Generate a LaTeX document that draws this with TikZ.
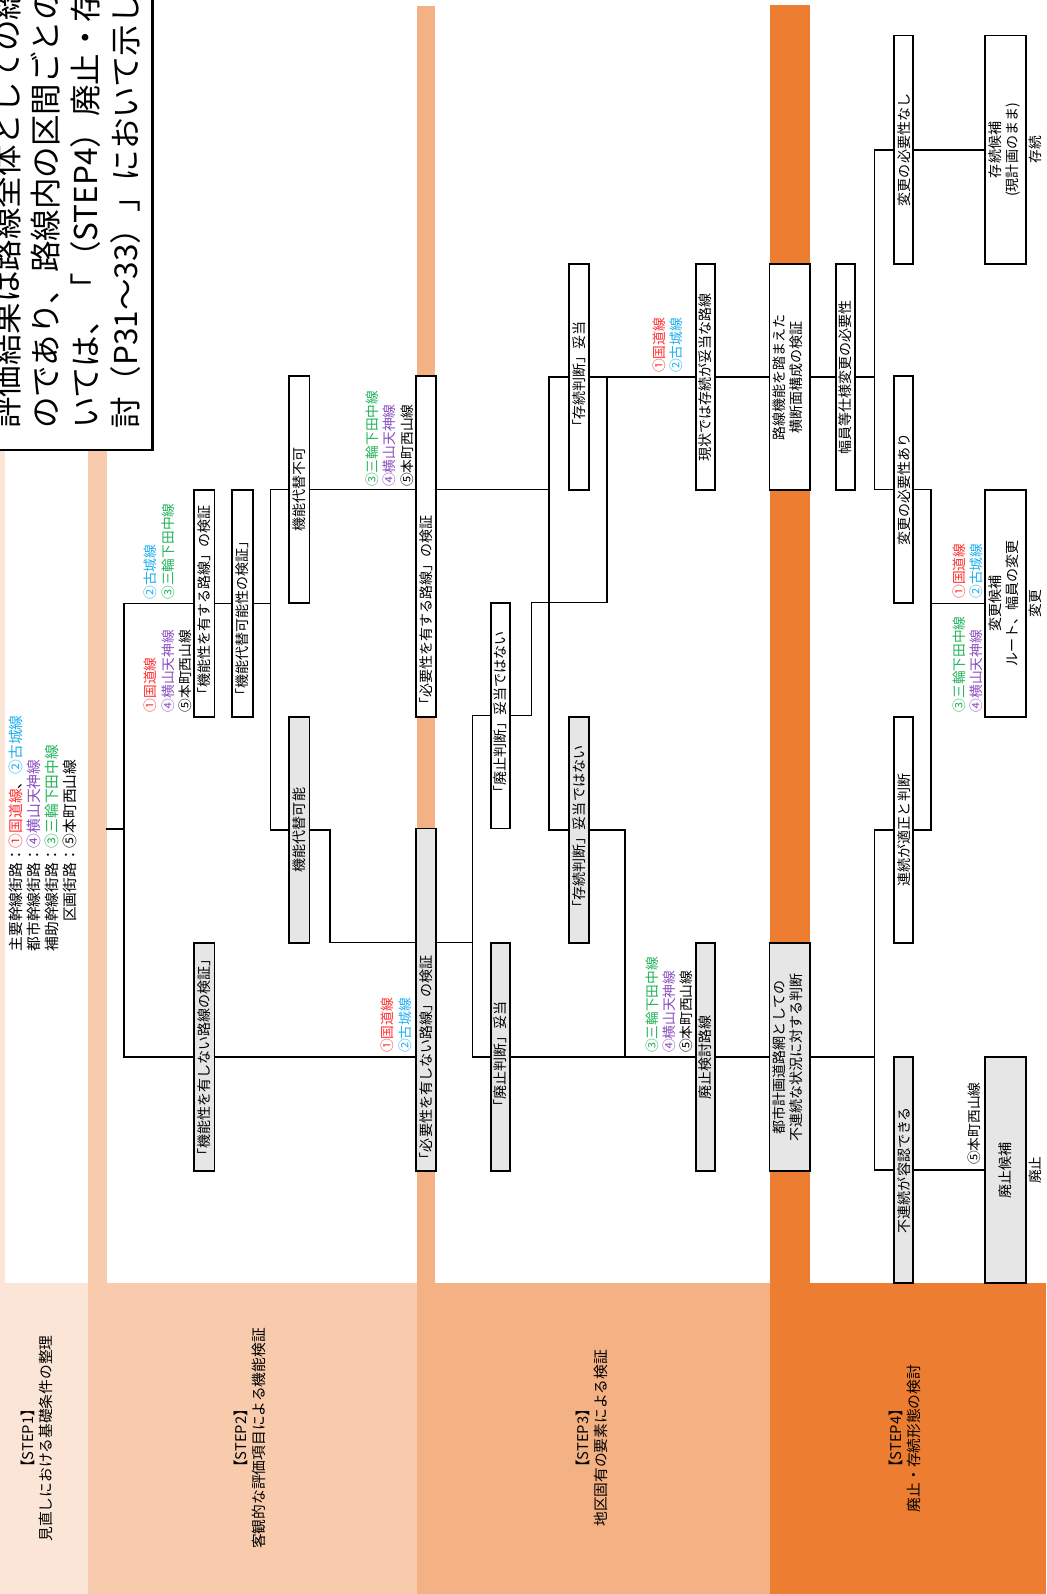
\documentclass[tikz,border=0pt]{standalone}
\usepackage{fontspec}
\setmainfont{Noto Sans CJK JP}
\usepackage{graphicx}
\definecolor{sA}{HTML}{FBE5D6}
\definecolor{sB}{HTML}{F8CBAD}
\definecolor{sC}{HTML}{F4B183}
\definecolor{sD}{HTML}{ED7D31}
\definecolor{gfill}{HTML}{E7E6E6}
\definecolor{cr}{HTML}{FF3030}
\definecolor{cc}{HTML}{20B0F0}
\definecolor{cp}{HTML}{8A4FC0}
\definecolor{cg}{HTML}{22B45A}
\newcommand{\myrot}[1]{\rotatebox{90}{#1}}
\newcommand{\myrotc}[1]{\rotatebox{90}{\begin{tabular}{@{}c@{}}#1\end{tabular}}}
\newcommand{\myrotl}[1]{\rotatebox{90}{\begin{tabular}{@{}l@{}}#1\end{tabular}}}
\begin{document}
\begin{tikzpicture}[x=1pt,y=-1pt,
  box/.style={draw, line width=1.8pt, fill=white, inner sep=0pt, font=\fontsize{13.8}{17}\selectfont},
  gbox/.style={box, fill=gfill},
  ln/.style={line width=1.5pt},
  lab/.style={inner sep=0pt, font=\fontsize{13.5}{17}\selectfont},
  steplab/.style={inner sep=0pt, font=\fontsize{14.5}{18}\selectfont},
  big/.style={inner sep=0pt, anchor=south, font=\fontsize{31}{31}\selectfont}]
\useasboundingbox (0,0) rectangle (1029,1568);
% backgrounds
\fill[white] (0,0) rectangle (1029,1568);
\fill[sA] (0,0) rectangle (87,1568);
\fill[sB] (87,0) rectangle (410,1568);
\fill[sC] (410,6) rectangle (757,1568);
\fill[sD] (757,5) rectangle (1029,1568);
\fill[white] (5,0) rectangle (87,1262);
\fill[white] (105,0) rectangle (410,1262);
\fill[white] (428,0) rectangle (757,1262);
\fill[white] (797,0) rectangle (1029,1262);
% step labels
\node[steplab] (s1) at (38,1415) {\myrotc{【STEP1】\\見直しにおける基礎条件の整理}};
\node[steplab] (s2) at (247.5,1415) {\myrotc{【STEP2】\\客観的な評価項目による機能検証}};
\node[steplab] (s3) at (584,1415) {\myrotc{【STEP3】\\地区固有の要素による検証}};
\node[steplab] (s4) at (892,1415) {\myrotc{【STEP4】\\廃止・存続形態の検討}};
% top-left text box
\begin{scope}
\clip (0,0) rectangle (150,443);
\fill[white] (0,0) rectangle (150,443);
\node[big] (t1) at (6,422) {\myrot{評価結果は路線全体としての総}};
\node[big] (t2) at (45,422) {\myrot{のであり、路線内の区間ごとの}};
\node[big] (t3) at (84,422) {\myrot{いては、「（STEP4）廃止・存}};
\node[big] (t4) at (123,422) {\myrot{討（P31～33）」において示し}};
\end{scope}
\draw[line width=2pt] (-5,443) -| (150,-5);
% legend
\node[lab, anchor=south, font=\fontsize{14.5}{17.5}\selectfont] (leg) at (44,936) {\rotatebox{90}{\begin{tabular}{@{}r@{}l@{}}主要幹線街路：&\textcolor{cr}{①国道線}、\textcolor{cc}{②古城線}\\都市幹線街路：&\textcolor{cp}{④横山天神線}\\補助幹線街路：&\textcolor{cg}{③三輪下田中線}\\区画街路：&⑤本町西山線\end{tabular}}};
% STEP2 boxes
\node[gbox, minimum width=20pt, minimum height=224pt] (A) at (201,1040) {\myrot{「機能性を有しない路線の検証」}};
\node[box, minimum width=20pt, minimum height=223pt] (B) at (201,593.5) {\myrot{「機能性を有する路線」の検証}};
\node[box, minimum width=20pt, minimum height=223pt] (C) at (238.5,593.5) {\myrot{\makebox[195pt][l]{「機能代替可能性の検証」}}};
\node[gbox, minimum width=20pt, minimum height=223pt] (D) at (294.5,816.5) {\myrot{機能代替可能}};
\node[box, minimum width=20pt, minimum height=223pt] (E) at (294.5,481.5) {\myrot{機能代替不可}};
% STEP3 boxes
\node[gbox, minimum width=19pt, minimum height=337pt] (F) at (419,983.5) {\myrot{\makebox[327pt][l]{「必要性を有しない路線」の検証}}};
\node[box, minimum width=19pt, minimum height=335pt] (G) at (419,537.5) {\myrot{\makebox[325pt][l]{「必要性を有する路線」の検証}}};
\node[box, minimum width=19pt, minimum height=222pt] (H) at (492.5,704) {\myrot{「廃止判断」妥当ではない}};
\node[gbox, minimum width=19pt, minimum height=224pt] (I) at (492.5,1040) {\myrot{「廃止判断」妥当}};
\node[gbox, minimum width=19pt, minimum height=223pt] (J) at (569.5,816.5) {\myrot{「存続判断」妥当ではない}};
\node[box, minimum width=19pt, minimum height=222pt] (K) at (569.5,371) {\myrot{「存続判断」妥当}};
\node[box, minimum width=19pt, minimum height=222pt] (L) at (694,371) {\myrot{現状では存続が妥当な路線}};
\node[gbox, minimum width=19pt, minimum height=224pt] (M) at (694,1040) {\myrot{廃止検討路線}};
% STEP4 boxes
\node[box, minimum width=40pt, minimum height=222pt] (N) at (777,371) {\myrotc{路線機能を踏まえた\\横断面構成の検証}};
\node[gbox, minimum width=40pt, minimum height=224pt] (O) at (777,1040) {\myrotc{都市計画道路網としての\\不連続な状況に対する判断}};
\node[box, minimum width=19pt, minimum height=222pt] (P) at (831.5,371) {\myrot{幅員等仕様変更の必要性}};
\node[box, minimum width=19pt, minimum height=225pt] (Q) at (889,147.5) {\myrot{変更の必要性なし}};
\node[box, minimum width=19pt, minimum height=223pt] (S) at (889,481.5) {\myrot{変更の必要性あり}};
\node[box, minimum width=19pt, minimum height=223pt] (V) at (889,816.5) {\myrot{連続が適正と判断}};
\node[gbox, minimum width=19pt, minimum height=222pt] (W) at (889,1151) {\myrot{不連続が容認できる}};
\node[box, minimum width=40pt, minimum height=225pt] (R) at (989,147.5) {\myrotc{存続候補\\(現計画のまま)}};
\node[box, minimum width=40pt, minimum height=223pt] (U) at (989,593.5) {\myrotc{変更候補\\ルート、幅員の変更}};
\node[gbox, minimum width=40pt, minimum height=222pt] (T) at (989,1151) {\myrot{廃止候補}};
\node[lab] (r1) at (1018,147.5) {\myrot{存続}};
\node[lab] (r2) at (1018,593.5) {\myrot{変更}};
\node[lab] (r3) at (1018,1151) {\myrot{廃止}};
% route labels
\node[lab, anchor=south] (lb1) at (167,701) {\myrotl{\textcolor{cr}{①国道線}\\\textcolor{cp}{④横山天神線}\\⑤本町西山線}};
\node[lab, anchor=south] (lb2) at (158.5,590) {\myrotl{\textcolor{cc}{②古城線}\\\textcolor{cg}{③三輪下田中線}}};
\node[lab, anchor=south] (lg) at (385,479) {\myrotl{\textcolor{cg}{③三輪下田中線}\\\textcolor{cp}{④横山天神線}\\⑤本町西山線}};
\node[lab, anchor=south] (lf) at (391.5,1036) {\myrotl{\textcolor{cr}{①国道線}\\\textcolor{cc}{②古城線}}};
\node[lab, anchor=south] (lm) at (660,1036) {\myrotl{\textcolor{cg}{③三輪下田中線}\\\textcolor{cp}{④横山天神線}\\⑤本町西山線}};
\node[lab, anchor=south] (ll) at (658.5,367) {\myrotl{\textcolor{cr}{①国道線}\\\textcolor{cc}{②古城線}}};
\node[lab, anchor=south] (lu1) at (953.5,589) {\myrotl{\textcolor{cr}{①国道線}\\\textcolor{cc}{②古城線}}};
\node[lab, anchor=south] (lu2) at (953.5,701) {\myrotl{\textcolor{cg}{③三輪下田中線}\\\textcolor{cp}{④横山天神線}}};
\node[lab, anchor=south] (lt) at (958,1146) {\myrot{⑤本町西山線}};
% connectors
\coordinate (lgend) at (104,815.5);
\coordinate (j1) at (122,815.5);
\draw[ln] (lgend) -- (j1);
\draw[ln] (B.west) -| (j1);
\draw[ln] (A.west) -| (j1);
\draw[ln] (B.east) -- (C.west);
\coordinate (j2) at (266,593.5);
\draw[ln] (C.east) -- (j2);
\draw[ln] (E.west) -| (j2);
\draw[ln] (D.west) -| (j2);
\draw[ln] (D.east) -- ++(19,0) |- (F.west |- I.north);
\draw[ln] (A.east) -- (F.west |- A.east);
\draw[ln] (E.east) -- (G.west |- E.east);
\coordinate (j3) at (465,927);
\draw[ln] (F.east |- j3) -- (j3);
\draw[ln] (H.west) -| (j3);
\draw[ln] (I.west) -| (j3);
\coordinate (j4) at (540,481.5);
\draw[ln] (G.east |- j4) -- (j4);
\draw[ln] (K.west) -| (j4);
\draw[ln] (J.west) -| (j4);
\draw[ln] (K.east) -- (L.west);
\coordinate (j5) at (597,371);
\coordinate (j5b) at (597,592.5);
\draw[ln] (H.east) -- ++(20,0) |- (j5b) -- (j5);
\coordinate (j6) at (615,1040);
\draw[ln] (I.east) -- (M.west);
\draw[ln] (J.east) -| (j6);
\draw[ln] (L.east) -- (N.west);
\draw[ln] (M.east) -- (O.west);
\draw[ln] (N.east) -- (P.west);
\coordinate (j7) at (860,371);
\draw[ln] (P.east) -- (j7);
\draw[ln] (Q.west) -| (j7);
\draw[ln] (S.west) -| (j7);
\draw[ln] (Q.east) -- (R.west);
\coordinate (j8) at (916,593.5);
\draw[ln] (S.east) -| (j8);
\draw[ln] (V.east) -| (j8);
\draw[ln] (j8) -- (U.west);
\coordinate (j9) at (860,1040);
\draw[ln] (O.east) -- (j9);
\draw[ln] (V.west) -| (j9);
\draw[ln] (W.west) -| (j9);
\draw[ln] (W.east) -- (T.west);
\end{tikzpicture}
\end{document}
